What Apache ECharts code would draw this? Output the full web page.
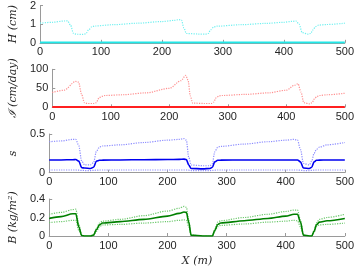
<!DOCTYPE html>
<html><head><meta charset="utf-8">
<script src="https://cdn.jsdelivr.net/npm/echarts@6/dist/echarts.min.js"></script>
<style>html,body{margin:0;padding:0;background:#fff}#c{width:357px;height:268px}</style>
</head><body><div id="c"></div>
<script>
const X = [0,20,40,45,50,55,60,70,75,80,85,90,120,160,200,220,228,232,236,240,260,272,276,280,285,290,330,370,400,414,420,425,430,440,444,448,452,457,470,500];
const xTicks = [0,100,200,300,400,500];

const H_upper = [1.05,1.1,1.17,1.18,0.95,0.5,0.46,0.45,0.48,0.7,0.86,0.9,0.97,1.05,1.14,1.2,1.24,1.22,0.8,0.5,0.47,0.47,0.5,0.7,0.85,0.89,0.97,1.04,1.1,1.15,1.17,1.0,0.55,0.46,0.5,0.7,0.87,0.95,0.98,1.05];
const H_lower = [0.02,0.02,0.02,0.02,0.02,0.02,0.02,0.02,0.02,0.02,0.02,0.02,0.02,0.02,0.02,0.02,0.02,0.02,0.02,0.02,0.02,0.02,0.02,0.02,0.02,0.02,0.02,0.02,0.02,0.02,0.02,0.02,0.02,0.02,0.02,0.02,0.02,0.02,0.02,0.02];

const I_upper = [39,45,68,66,35,12,10,10,12,25,29,31,33,38,50,70,84,72,30,11,10,10,14,25,30,31,34,38,45,58,62,40,12,9,12,22,28,31,33,37];
const I_lower = [0.5,0.5,0.5,0.5,0.5,0.5,0.5,0.5,0.5,0.5,0.5,0.5,0.5,0.5,0.5,0.5,0.5,0.5,0.5,0.5,0.5,0.5,0.5,0.5,0.5,0.5,0.5,0.5,0.5,0.5,0.5,0.5,0.5,0.5,0.5,0.5,0.5,0.5,0.5,0.5];

const s_mean = [0.165,0.165,0.168,0.17,0.15,0.065,0.06,0.055,0.07,0.15,0.16,0.163,0.165,0.168,0.17,0.172,0.175,0.17,0.1,0.055,0.05,0.055,0.07,0.14,0.16,0.163,0.165,0.165,0.165,0.165,0.165,0.14,0.06,0.055,0.07,0.14,0.16,0.163,0.165,0.165];
const s_upper = [0.40,0.41,0.43,0.43,0.35,0.15,0.1,0.1,0.13,0.28,0.33,0.345,0.36,0.39,0.42,0.43,0.44,0.42,0.2,0.1,0.09,0.09,0.12,0.27,0.33,0.34,0.37,0.4,0.42,0.43,0.42,0.3,0.12,0.1,0.15,0.25,0.3,0.33,0.36,0.39];
const s_lower = [0.035,0.035,0.035,0.035,0.033,0.03,0.028,0.028,0.03,0.033,0.035,0.035,0.035,0.035,0.035,0.035,0.035,0.035,0.032,0.028,0.028,0.028,0.03,0.033,0.035,0.035,0.035,0.035,0.035,0.035,0.035,0.032,0.028,0.028,0.03,0.033,0.035,0.035,0.035,0.035];

const B_mean = [0.19,0.21,0.24,0.24,0.1,0.005,0,0,0.01,0.07,0.12,0.14,0.155,0.18,0.215,0.245,0.26,0.255,0.15,0.01,0,0,0,0.06,0.125,0.14,0.165,0.19,0.215,0.235,0.235,0.15,0.01,0,0,0.05,0.12,0.15,0.165,0.19];
const B_upper = [0.235,0.255,0.285,0.29,0.13,0.005,0,0,0.01,0.08,0.14,0.16,0.18,0.22,0.27,0.3,0.32,0.31,0.17,0.01,0,0,0,0.07,0.15,0.165,0.2,0.235,0.265,0.28,0.28,0.17,0.01,0,0,0.06,0.14,0.18,0.2,0.235];
const B_lower = [0.145,0.155,0.17,0.17,0.06,0.003,0,0,0.005,0.05,0.1,0.12,0.125,0.14,0.155,0.17,0.175,0.17,0.1,0.005,0,0,0,0.05,0.1,0.115,0.13,0.15,0.16,0.17,0.165,0.1,0.005,0,0,0.04,0.1,0.12,0.125,0.14];

const yLabels = ['H (cm)', 'ℐ (cm/day)', 's', 'B (kg/m²)'];
const yMax = [2, 100, 0.5, 0.4];
const yInt = [1, 50, 0.5, 0.2];

const tops = [4.5, 69.3, 134, 199];
const hts = [38.3, 38, 38.7, 38.7];
const txt = '#262626', axc = '#9a9a9a';
const grids = [], xAxes = [], yAxes = [];
for (let i = 0; i < 4; i++) {
  grids.push({left: 39, right: 9, top: tops[i], height: hts[i]});
  xAxes.push({type: 'value', gridIndex: i, min: 0, max: 500, interval: 100,
    axisLine: {lineStyle: {color: axc, width: 1}},
    axisTick: {inside: true, length: 3, lineStyle: {color: axc}},
    axisLabel: {color: txt, fontSize: 11, fontFamily: 'Liberation Sans', margin: 4},
    splitLine: {show: false},
    name: i === 3 ? 'X (m)' : '', nameLocation: 'middle', nameGap: 20,
    nameTextStyle: {fontFamily: 'DejaVu Serif', fontStyle: 'italic', fontSize: 11, color: txt}});
  yAxes.push({type: 'value', gridIndex: i, min: 0, max: yMax[i], interval: yInt[i],
    axisLine: {show: true, lineStyle: {color: axc, width: 1}},
    axisTick: {show: true, inside: true, length: 3, lineStyle: {color: axc}},
    axisLabel: {color: txt, fontSize: 11, fontFamily: 'Liberation Sans', margin: 4},
    splitLine: {show: false},
    name: yLabels[i], nameLocation: 'middle', nameGap: i === 2 ? 22 : 20, nameRotate: 90,
    nameTextStyle: {fontFamily: 'DejaVu Serif', fontStyle: 'italic', fontSize: 11, color: txt}});
}
function pairs(ys) { return X.map((x, k) => [x, ys[k]]); }
function line(idx, ys, color, width, dotted, z) {
  return {type: 'line', xAxisIndex: idx, yAxisIndex: idx, data: pairs(ys), showSymbol: false,
    smooth: 0.3, smoothMonotone: 'x', silent: true, z: z,
    lineStyle: {color: color, width: width, type: dotted ? [1.2, 1.2] : 'solid'}};
}
const series = [
  line(0, H_upper, '#70f0f0', 1.2, true, 2),
  line(0, H_lower, '#20e8e8', 2, false, 3),
  line(1, I_upper, '#ff9090', 1.2, true, 2),
  line(1, I_lower, '#ff2020', 2, false, 3),
  line(2, s_upper, '#8c8cff', 1.2, true, 2),
  line(2, s_lower, '#8c8cff', 1.2, true, 2),
  line(2, s_mean, '#0000f0', 1.6, false, 3),
  line(3, B_upper, '#6cc86c', 1.2, true, 2),
  line(3, B_lower, '#6cc86c', 1.2, true, 2),
  line(3, B_mean, '#008000', 1.6, false, 3)
];
const chart = echarts.init(document.getElementById('c'), null, {renderer: 'canvas'});
chart.setOption({animation: false, backgroundColor: '#fff', grid: grids, xAxis: xAxes, yAxis: yAxes, series: series});
</script></body></html>
